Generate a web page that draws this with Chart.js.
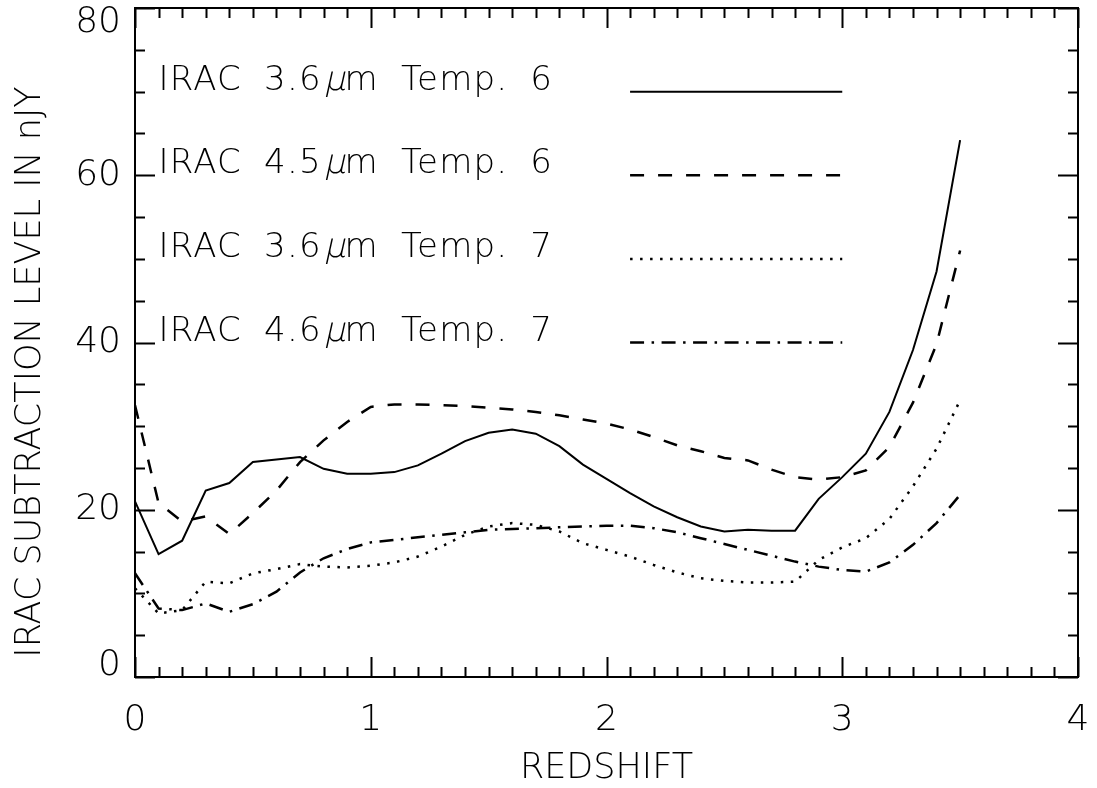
<!DOCTYPE html>
<html><head><meta charset="utf-8">
<script src="https://cdn.jsdelivr.net/npm/chart.js@4.4.1/dist/chart.umd.min.js"></script>
<style>html,body{margin:0;padding:0;background:#fff}canvas{display:block}</style>
</head><body>
<canvas id="c" width="1097" height="788"></canvas>
<script>
// ---- data ----
const redshift = [0.0,0.1,0.2,0.3,0.4,0.5,0.6,0.7,0.8,0.9,1.0,1.1,1.2,1.3,1.4,1.5,1.6,1.7,1.8,1.9,2.0,2.1,2.2,2.3,2.4,2.5,2.6,2.7,2.8,2.9,3.0,3.1,3.2,3.3,3.4,3.5];
const irac36Temp6 = [21.0,14.7,16.3,22.3,23.2,25.7,26.0,26.3,24.9,24.3,24.3,24.5,25.3,26.7,28.2,29.2,29.6,29.1,27.6,25.4,23.7,22.0,20.4,19.1,18.0,17.4,17.6,17.5,17.5,21.3,23.9,26.7,31.7,39.1,48.5,64.2];
const irac45Temp6 = [32.5,20.8,18.6,19.2,17.1,19.6,22.3,25.7,28.3,30.5,32.3,32.6,32.6,32.5,32.4,32.2,32.0,31.7,31.3,30.8,30.3,29.6,28.7,27.7,27.0,26.2,25.9,24.8,23.9,23.6,23.9,24.7,27.5,32.8,39.8,51.0];
const irac36Temp7 = [10.6,7.6,8.0,11.4,11.2,12.4,12.9,13.5,13.2,13.1,13.3,13.7,14.4,15.6,17.0,18.0,18.4,18.2,17.4,16.0,15.2,14.4,13.4,12.5,11.8,11.5,11.3,11.3,11.4,14.0,15.5,16.6,18.9,22.8,27.3,33.1];
const irac46Temp7 = [12.4,8.2,8.0,8.8,7.8,8.7,10.2,12.5,14.2,15.3,16.1,16.4,16.7,17.0,17.3,17.6,17.7,17.8,17.9,18.0,18.1,18.1,17.8,17.3,16.6,15.9,15.2,14.5,13.8,13.2,12.8,12.6,13.7,15.8,18.4,21.8];
const seriesLabels = ['IRAC 3.6μm Temp. 6','IRAC 4.5μm Temp. 6','IRAC 3.6μm Temp. 7','IRAC 4.6μm Temp. 7'];
const xTickLabels = ['0','1','2','3','4'];
const yTickValues = [0,20,40,60,80];
const yTickLabels = ['0','20','40','60','80'];
const xTitle = 'REDSHIFT';
const yTitle = 'IRAC SUBTRACTION LEVEL IN nJY';
// legend rows sit in data coordinates, as in the original plot
const legendRowY = [70,60,50,40];
const legendTextX = 0.1;
const legendLineX = [2.1,3.0];

const FONT = '"DejaVu Sans", sans-serif';
const WEIGHT = '300';

function pts(vals){ return redshift.map((z,i)=>({x:z,y:vals[i]})); }

const idlFrame = {
  id: 'idlFrame',
  afterDatasetsDraw(chart) {
    const {ctx, chartArea: a, scales: {x, y}} = chart;
    ctx.save();
    ctx.strokeStyle = '#000';
    ctx.fillStyle = '#000';
    ctx.setLineDash([]);
    ctx.lineWidth = 2;
    ctx.strokeRect(a.left, a.top, a.right - a.left, a.bottom - a.top);
    ctx.beginPath();
    for (let i = 0; i <= 40; i++) {
      const px = Math.round(x.getPixelForValue(i / 10)) + 0.5;
      const len = i % 10 === 0 ? 20 : 10;
      ctx.moveTo(px, a.bottom); ctx.lineTo(px, a.bottom - len);
      ctx.moveTo(px, a.top); ctx.lineTo(px, a.top + len);
    }
    for (let i = 0; i <= 16; i++) {
      const py = Math.round(y.getPixelForValue(i * 5)) + 0.5;
      const len = i % 4 === 0 ? 20 : 10;
      ctx.moveTo(a.left, py); ctx.lineTo(a.left + len, py);
      ctx.moveTo(a.right, py); ctx.lineTo(a.right - len, py);
    }
    ctx.stroke();

    // y tick labels (kept inside the axis span as IDL does)
    ctx.font = WEIGHT + ' 36px ' + FONT;
    ctx.textAlign = 'right';
    ctx.textBaseline = 'middle';
    yTickValues.forEach((v, i) => {
      let py = y.getPixelForValue(v);
      py = Math.min(Math.max(py, a.top + 15), a.bottom - 11);
      ctx.fillText(yTickLabels[i], a.left - 14, py);
    });

    // axis titles
    ctx.font = WEIGHT + ' 35px ' + FONT;
    ctx.textAlign = 'center';
    ctx.textBaseline = 'middle';
    ctx.fillText(xTitle, (a.left + a.right) / 2, 769);
    ctx.save();
    ctx.translate(31, 372);
    ctx.rotate(-Math.PI / 2);
    ctx.fillText(yTitle, 0, 0);
    ctx.restore();

    // legend
    chart.data.datasets.forEach((ds, i) => {
      const py = y.getPixelForValue(legendRowY[i]);
      ctx.save();
      ctx.lineWidth = ds.borderWidth;
      ctx.setLineDash(ds.borderDash || []);
      ctx.beginPath();
      ctx.moveTo(x.getPixelForValue(legendLineX[0]), py);
      ctx.lineTo(x.getPixelForValue(legendLineX[1]), py);
      ctx.stroke();
      ctx.restore();
      // text with slanted mu
      const label = ds.label;
      const k = label.indexOf('μ');
      const parts = [[label.slice(0, k), false], ['μ', true], [label.slice(k + 1), false]];
      let tx = x.getPixelForValue(legendTextX);
      const ty = py - 2;
      ctx.textAlign = 'left';
      ctx.textBaseline = 'alphabetic';
      ctx.font = WEIGHT + ' 34px ' + FONT;
      ctx.letterSpacing = '1.2px';
      ctx.wordSpacing = '10px';
      parts.forEach(([t, slant]) => {
        if (slant) {
          ctx.save();
          ctx.translate(tx, ty);
          ctx.transform(1, 0, -0.22, 1, 0, 0);
          ctx.fillText(t, 2, 0);
          ctx.restore();
        } else {
          ctx.fillText(t, tx, ty);
        }
        tx += ctx.measureText(t).width;
      });
      ctx.letterSpacing = '0px';
      ctx.wordSpacing = '0px';
    });
    ctx.restore();
  }
};

new Chart(document.getElementById('c'), {
  type: 'line',
  data: {
    datasets: [
      {label: seriesLabels[0], data: pts(irac36Temp6), borderColor:'#000', borderWidth:2, borderDash:[]},
      {label: seriesLabels[1], data: pts(irac45Temp6), borderColor:'#000', borderWidth:2.5, borderDash:[14,14]},
      {label: seriesLabels[2], data: pts(irac36Temp7), borderColor:'#000', borderWidth:2.5, borderDash:[2.5,7.5]},
      {label: seriesLabels[3], data: pts(irac46Temp7), borderColor:'#000', borderWidth:2.5, borderDash:[14,7.5,2.5,7.5]}
    ]
  },
  options: {
    responsive: false,
    animation: false,
    devicePixelRatio: 1,
    layout: {padding: {top: 8, right: 19, left: 0, bottom: 0}},
    plugins: {legend: {display: false}, tooltip: {enabled: false}},
    elements: {point: {radius: 0}, line: {tension: 0, fill: false, borderCapStyle: 'butt', borderJoinStyle: 'miter'}},
    scales: {
      x: {
        type: 'linear', min: 0, max: 4, position: 'bottom',
        grid: {display: false}, border: {display: false},
        ticks: {stepSize: 1, padding: 18, color: '#000', autoSkip: false, maxRotation: 0,
          font: {family: FONT, size: 36, weight: WEIGHT, lineHeight: 1},
          callback: (v) => xTickLabels[Math.round(v)] ?? ''},
        afterFit(s) { s.height = 111; s.paddingLeft = 0; s.paddingRight = 0; }
      },
      y: {
        type: 'linear', min: 0, max: 80, position: 'left',
        grid: {display: false}, border: {display: false},
        ticks: {display: false, stepSize: 20},
        afterFit(s) { s.width = 135; s.paddingTop = 0; s.paddingBottom = 0; }
      }
    }
  },
  plugins: [idlFrame]
});
</script>
</body></html>
